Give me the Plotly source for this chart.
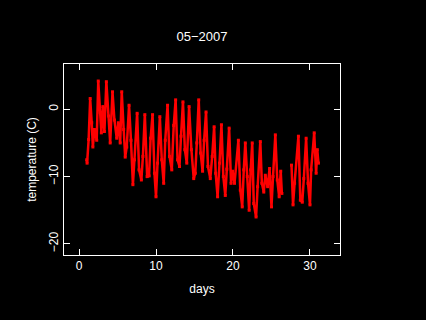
import plotly.graph_objects as go

# Turning points (day of month, temperature in C)
days = [1.00, 1.05, 1.25, 1.45, 1.65, 1.80, 2.00, 2.30, 2.50, 2.75, 2.90, 3.10, 3.30, 3.55, 3.85,
        4.05, 4.35, 4.60, 4.90, 5.10, 5.35, 5.55, 5.80, 6.00, 6.20, 6.50, 6.75, 7.00, 7.20, 7.55,
        7.80, 8.10, 8.30, 8.55, 8.85, 9.10, 9.30, 9.55, 9.80, 10.00, 10.20, 10.50, 10.75, 11.00,
        11.20, 11.50, 11.75, 12.05, 12.30, 12.55, 12.80, 13.05, 13.25, 13.50, 13.75, 14.00, 14.30,
        14.60, 14.90, 15.10, 15.30, 15.55, 15.80, 16.05, 16.25, 16.50, 16.75, 17.05, 17.30, 17.55,
        17.75, 18.00, 18.25, 18.50, 18.75, 19.00, 19.20, 19.50, 19.75, 19.95, 20.20, 20.70, 20.95,
        21.20, 21.40, 21.60, 21.85, 22.10, 22.30, 22.50, 22.70, 23.00, 23.20, 23.55, 23.75, 24.00,
        24.20, 24.50, 24.75, 25.00, 25.20, 25.50, 25.75, 26.00, 26.20, 26.35, None,
        27.60, 27.80, 28.00, 28.50, 28.75, 29.00, 29.20, 29.50, 29.75, 30.00, 30.15, 30.55, 30.80,
        30.95, 31.10]
temps = [-7.5, -8.0, -4.5, 1.6, -2.0, -5.6, -3.0, -4.6, 4.2, -0.5, -3.5, 0.4, -3.3, 4.1, -1.0,
         -5.0, 2.6, -1.6, -4.3, -2.0, -5.0, 2.6, -3.0, -7.1, -5.6, 0.6, -4.6, -11.2, -7.5, -0.6,
         -9.0, -10.5, -7.0, -0.8, -10.0, -9.9, -4.3, -0.8, -9.5, -13.0, -8.0, -1.1, -7.5, -11.0,
         -4.6, 0.6, -7.0, -9.0, -2.4, 1.4, -7.5, -8.5, -4.0, 1.1, -6.0, -8.0, 0.4,
         -6.0, -10.3, -9.5, -5.0, 1.4, -6.5, -9.2, -4.6, -0.4, -8.5, -10.3, -7.0, -2.6,
         -9.5, -13.0, -8.0, -2.3, -10.0, -12.8, -8.9, -2.8, -11.0, -9.2, -11.0, -4.6, -12.0,
         -14.5, -9.0, -5.0, -10.0, -15.0, -9.0, -5.0, -14.0, -16.0, -11.5, -4.8, -11.0, -12.3,
         -9.8, -11.5, -8.8, -14.5, -10.0, -3.8, -10.5, -13.0, -9.2, -12.5, None,
         -8.3, -14.2, -11.0, -4.0, -13.5, -13.8, -10.3, -4.3, -11.0, -14.2, -9.0, -3.5, -9.5,
         -6.0, -8.0]

x_ticks = [0, 10, 20, 30]
y_ticks = [-20, -10, 0]

FONT = "Liberation Sans"

fig = go.Figure()
fig.add_trace(go.Scatter(
    x=days, y=temps, mode="lines+markers",
    line=dict(color="#ff0000", width=2.5),
    marker=dict(color="#ff0000", size=3, symbol="square"),
    connectgaps=False, hoverinfo="skip", showlegend=False,
))

axis_common = dict(
    showline=True, linecolor="white", linewidth=1, mirror="ticks",
    ticks="inside", ticklen=6, tickcolor="white", tickwidth=1,
    showgrid=False, zeroline=False,
    tickfont=dict(family=FONT, size=12, color="white"),
)

fig.update_layout(
    width=426, height=320,
    paper_bgcolor="black", plot_bgcolor="black",
    margin=dict(l=64, r=86, t=64, b=65),
    title=dict(text="05\u22122007", x=0.474, xanchor="center", y=0.887, yanchor="middle",
               font=dict(family=FONT, size=13, color="white")),
    xaxis=dict(range=[-1.95, 33.9], tickvals=x_ticks, ticktext=[str(v) for v in x_ticks],
               title=dict(text="days", font=dict(family=FONT, size=12, color="white"), standoff=12),
               **axis_common),
    yaxis=dict(range=[-21.65, 6.73], tickvals=y_ticks,
               ticktext=[("\u2212" + str(-v)) if v < 0 else str(v) for v in y_ticks],
               tickangle=-90,
               title=dict(text="temperature (C)", font=dict(family=FONT, size=12, color="white"), standoff=8),
               **axis_common),
)

fig.write_html("out.html", config={"displayModeBar": False},
               post_script="document.body.style.margin='0px';document.body.style.background='black';")
